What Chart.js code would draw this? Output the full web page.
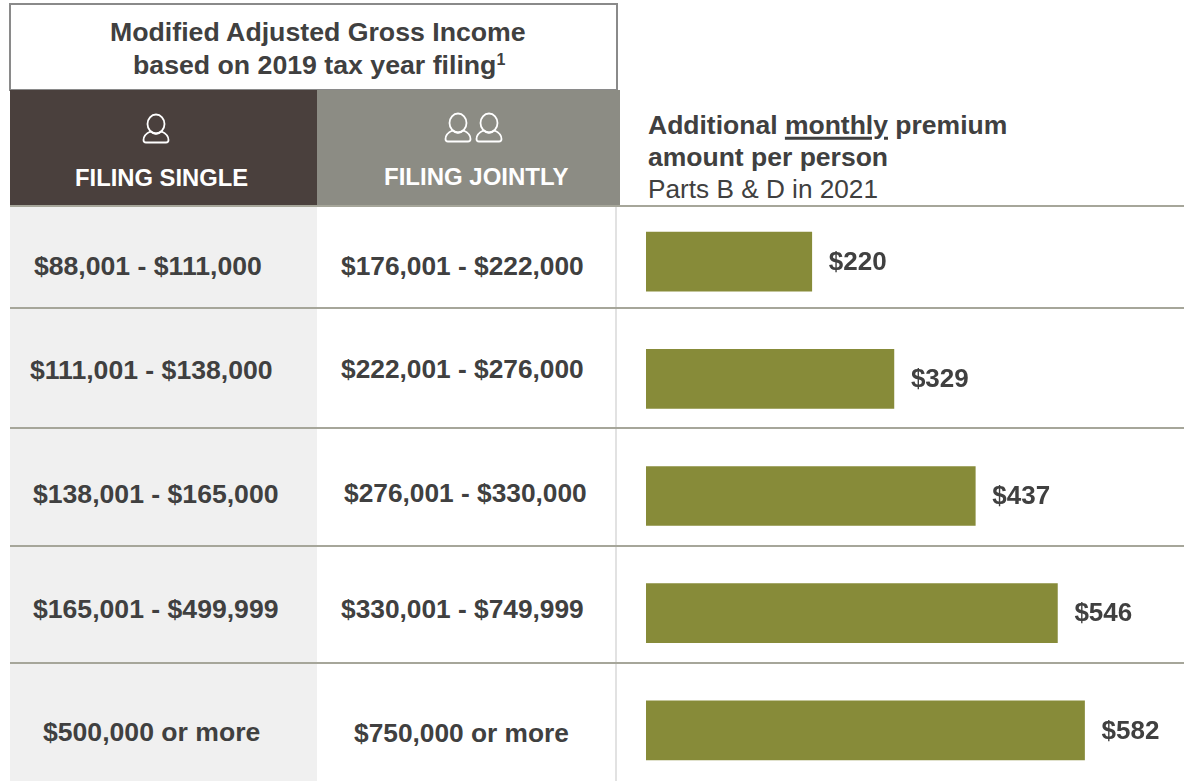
<!DOCTYPE html>
<html>
<head>
<meta charset="utf-8">
<script src="https://cdn.jsdelivr.net/npm/chart.js@4"></script>
<style>
  html, body { margin: 0; padding: 0; background: #fff; overflow: hidden; }
  body { width: 1184px; height: 781px; position: relative; font-family: "Liberation Sans", Arial, sans-serif; color: #404040; }
  .abs { position: absolute; }
  .txt { position: absolute; white-space: nowrap; transform: translateY(-50%); line-height: 1; }
  .b { font-weight: bold; }
  #wrap { position: absolute; left: 0; top: 203px; width: 1184px; height: 586px; }
</style>
</head>
<body>
<div class="abs" style="left:10px;top:207px;width:307px;height:574px;background:#f0f0f0"></div>
<div class="abs" style="left:9px;top:3px;width:605px;height:84px;border:2px solid #8a8a8a;background:#fff"></div>
<div class="abs" style="left:10px;top:90px;width:307px;height:115px;background:#4a403d"></div>
<div class="abs" style="left:317px;top:90px;width:303px;height:115px;background:#8c8c84"></div>
<div class="abs" style="left:615px;top:206px;width:2px;height:575px;background:#e2e2e2"></div>

<div class="txt b" style="left:110px;top:32px;font-size:26.7px">Modified Adjusted Gross Income</div>
<div class="txt b" style="left:133px;top:65px;font-size:26.7px">based on 2019 tax year filing<sup style="font-size:16px;line-height:0;vertical-align:9px">1</sup></div>

<svg class="abs" style="left:142px;top:112px" width="28" height="33" fill="none" stroke="#fff" stroke-width="1.8">
  <ellipse cx="14" cy="12" rx="8.5" ry="9.5"/>
  <path d="M8.5 19.5 C4 21.5 1.5 24 1.5 28 Q1.5 30.5 4 30.5 H24 Q26.5 30.5 26.5 28 C26.5 24 24 21.5 19.5 19.5 M8.5 19.5 Q14 24 19.5 19.5"/>
</svg>
<svg class="abs" style="left:444px;top:111px" width="60" height="33" fill="none" stroke="#fff" stroke-width="1.8">
  <ellipse cx="14" cy="12" rx="8.5" ry="9.5"/>
  <path d="M8.5 19.5 C4 21.5 1.5 24 1.5 28 Q1.5 30.5 4 30.5 H24 Q26.5 30.5 26.5 28 C26.5 24 24 21.5 19.5 19.5 M8.5 19.5 Q14 24 19.5 19.5"/>
  <ellipse cx="45" cy="12" rx="8.5" ry="9.5"/>
  <path d="M39.5 19.5 C35 21.5 32.5 24 32.5 28 Q32.5 30.5 35 30.5 H55 Q57.5 30.5 57.5 28 C57.5 24 55 21.5 50.5 19.5 M39.5 19.5 Q45 24 50.5 19.5"/>
</svg>
<div class="txt b" style="left:75px;top:178px;font-size:23.8px;color:#fff">FILING SINGLE</div>
<div class="txt b" style="left:384px;top:177px;font-size:24px;color:#fff">FILING JOINTLY</div>

<div class="txt b" style="left:648px;top:125px;font-size:26.5px">Additional <span style="text-decoration:underline;text-underline-offset:3px;text-decoration-thickness:2.5px">monthly</span> premium</div>
<div class="txt b" style="left:648px;top:157px;font-size:26.5px">amount per person</div>
<div class="txt" style="left:648px;top:189px;font-size:26.2px">Parts B &amp; D in 2021</div>

<div id="rows"></div>
<div id="wrap"><canvas id="chart" width="1184" height="586"></canvas></div>

<script>
const singleLabels = ['$88,001 - $111,000', '$111,001 - $138,000', '$138,001 - $165,000', '$165,001 - $499,999', '$500,000 or more'];
const jointLabels = ['$176,001 - $222,000', '$222,001 - $276,000', '$276,001 - $330,000', '$330,001 - $749,999', '$750,000 or more'];
const premiums = [220, 329, 437, 546, 582];
const valueLabels = ['$220', '$329', '$437', '$546', '$582'];

// table cells are not evenly placed in the original, so these are hand placed
const singleLeft = [34, 30, 33, 33, 43];
const singleTop = [266, 370, 494, 609, 732];
const jointLeft = [341, 341, 344, 341, 354];
const jointTop = [266, 369, 493, 609, 733];
const ruleTop = [205, 307, 427, 545, 662];

const rows = document.getElementById('rows');
function addCell(text, left, top, size) {
  const d = document.createElement('div');
  d.className = 'txt b';
  d.style.cssText = `left:${left}px;top:${top}px;font-size:${size}px`;
  d.textContent = text;
  rows.appendChild(d);
}
singleLabels.forEach((t, i) => addCell(t, singleLeft[i], singleTop[i], 26.6));
jointLabels.forEach((t, i) => addCell(t, jointLeft[i], jointTop[i], 26.3));
ruleTop.forEach((y, i) => {
  const r = document.createElement('div');
  r.className = 'abs';
  r.style.cssText = `left:${i === 0 ? 10 : 10}px;top:${y}px;width:1174px;height:2px;background:#a6a69a`;
  rows.appendChild(r);
});

// value labels sit just past the end of each bar
const barLabels = {
  id: 'barLabels',
  afterDatasetsDraw(chart) {
    const ctx = chart.ctx;
    const bars = chart.getDatasetMeta(0).data;
    ctx.save();
    ctx.font = 'bold 26px "Liberation Sans", Arial, sans-serif';
    ctx.fillStyle = '#404040';
    ctx.textAlign = 'left';
    ctx.textBaseline = 'middle';
    bars.forEach((bar, i) => ctx.fillText(valueLabels[i], bar.x + 17, bar.y + 1));
    ctx.restore();
  }
};

new Chart(document.getElementById('chart'), {
  type: 'bar',
  data: {
    labels: singleLabels,
    datasets: [{
      data: premiums,
      backgroundColor: '#878b39',
      barThickness: 59,
      borderWidth: 0
    }]
  },
  options: {
    indexAxis: 'y',
    responsive: false,
    animation: false,
    layout: { padding: { left: 646, right: 0, top: 0, bottom: 0 } },
    plugins: { legend: { display: false }, tooltip: { enabled: false } },
    scales: {
      x: { display: false, min: 0, max: 714 },
      y: { display: false }
    }
  },
  plugins: [barLabels]
});
</script>
</body>
</html>
